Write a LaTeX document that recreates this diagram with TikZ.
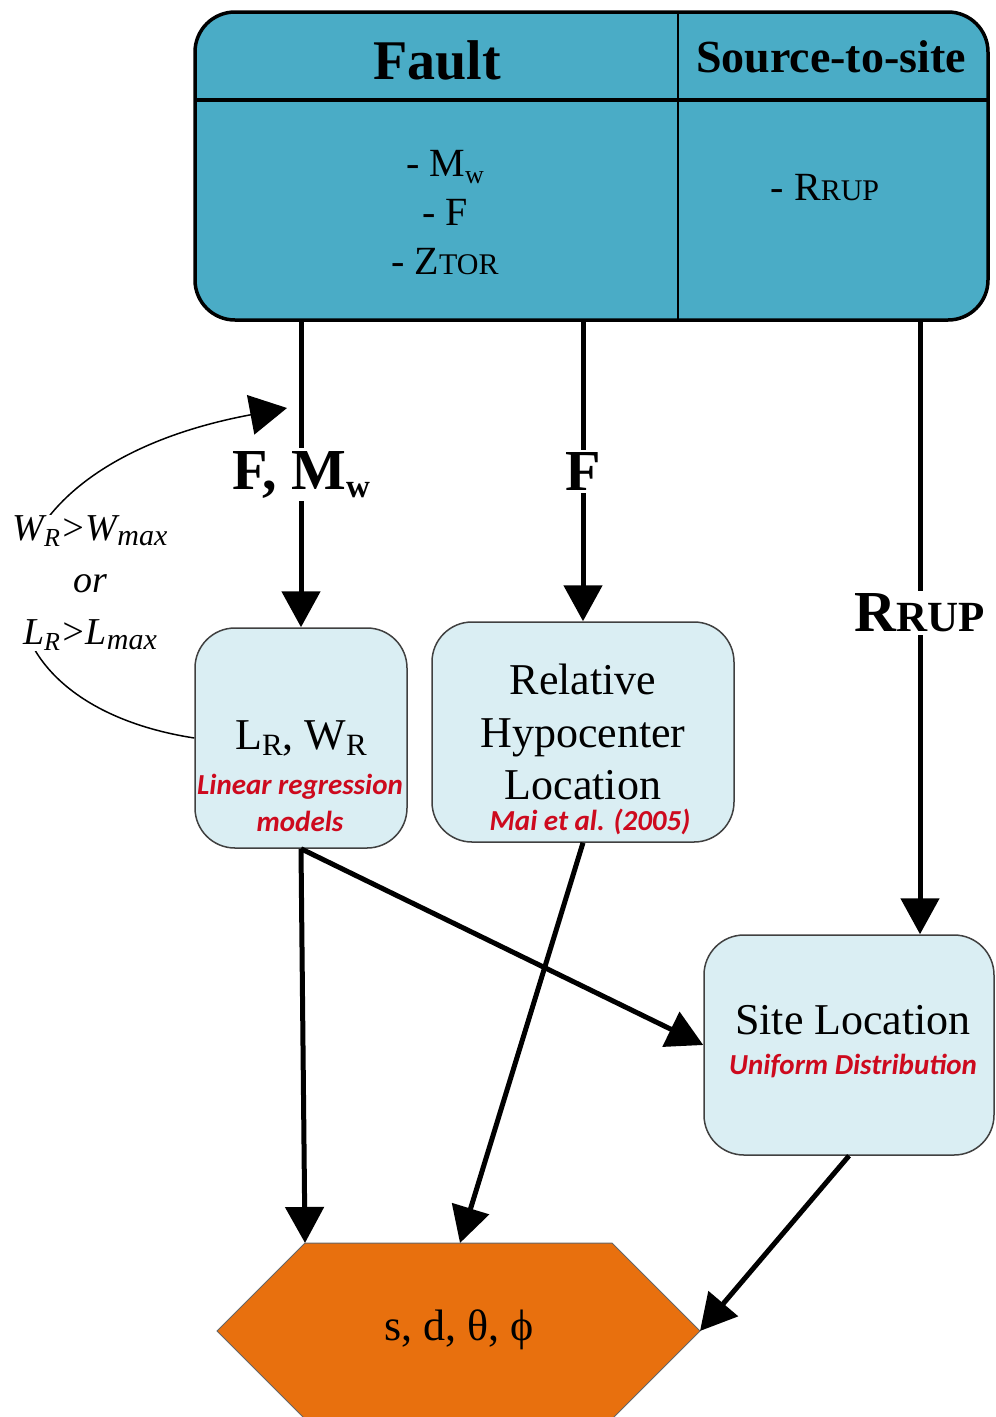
\documentclass[tikz,border=0pt]{standalone}
\usepackage{fontspec}
\setmainfont{Liberation Serif}
\newfontfamily\notefont{Carlito}
\usetikzlibrary{arrows.meta}

\definecolor{faultblue}{RGB}{74,172,198}
\definecolor{paleblue}{RGB}{218,238,243}
\definecolor{hexorange}{RGB}{232,112,14}
\definecolor{noteRed}{RGB}{205,10,30}

\newcommand{\fsz}[2]{\fontsize{#1}{#2}\selectfont}
\newcommand{\smallcap}[2]{{\fontsize{#1}{#1}\selectfont #2}}
\newcommand{\lowtxt}[3]{\raisebox{-#2}{\fontsize{#1}{#1}\selectfont #3}}

\begin{document}
\begin{tikzpicture}[x=1pt,y=-1pt,
  topbox/.style={draw,line width=3.5pt,fill=faultblue,rounded corners=40pt,
    minimum width=793pt,minimum height=308pt},
  stagebox/.style={draw=black!75,line width=1.5pt,fill=paleblue,rounded corners=40pt,
    minimum height=220pt},
  flow/.style={line width=5pt,-{Triangle[length=36pt,width=38pt]}},
  flowlabel/.style={fill=white,inner sep=3pt,font=\fsz{58}{62}\bfseries},
  note/.style={text=noteRed,font=\notefont\bfseries\itshape\fsz{29}{37}}]

  \useasboundingbox (0,0) rectangle (996,1417);

  % source table
  \node[topbox] (src) at (591.5,166) {};
  \draw[line width=3.5pt] (195,100) -- (988,100);
  \draw[line width=1.5pt] (678,12) -- (678,320);
  \node[font=\fsz{56}{60}\bfseries] (faulthead) at (437,60) {Fault};
  \node[font=\fsz{46}{50}\bfseries] (sitehead) at (831,57) {Source-to-site};
  \node[align=center,font=\fsz{40}{49}] (faultvars) at (445,213)
    {- M\lowtxt{26}{7pt}{w}\\- F\\- Z\smallcap{30}{TOR}};
  \node[font=\fsz{40}{49}] (sitevars) at (825,188) {- R\smallcap{30}{RUP}};

  % stages
  \node[stagebox,minimum width=212pt] (lr) at (301,738) {};
  \node[stagebox,minimum width=302pt] (hypo) at (583,732) {};
  \node[stagebox,minimum width=290pt] (site) at (849,1045) {};
  \node[font=\fsz{44}{50}] (lrtext) at (301,738) {L\lowtxt{31}{6pt}{R}, W\lowtxt{31}{6pt}{R}};
  \node[note,align=center] (lrnote) at (300,803) {Linear regression\\models};
  \node[align=center,font=\fsz{44}{52.5}] (hypotext) at (583,732) {Relative\\Hypocenter\\Location};
  \node[note] (hyponote) at (590,822) {Mai et al. (2005)};
  \node[font=\fsz{44}{50}] (sitetext) at (853,1020) {Site Location};
  \node[note] (sitenote) at (853,1066) {Uniform Distribution};

  % output
  \filldraw[fill=hexorange,draw=black!60,line width=1pt]
    (217,1331) -- (305,1243) -- (612,1243) -- (700,1331) -- (612,1419) -- (305,1419) -- cycle;
  \coordinate (hexnw) at (305,1243);
  \coordinate (hexn) at (460,1243);
  \coordinate (hexe) at (700,1331);
  \node[font=\fsz{44}{50}] (params) at (459,1330) {s, d, θ, ϕ};

  % connectors
  \coordinate (rrupcol) at (920,0);
  \draw[flow] (lr.north |- src.south) -- node[flowlabel] {F, M\lowtxt{33}{8pt}{w}} (lr.north);
  \draw[flow] (hypo.north |- src.south) -- node[flowlabel] {F} (hypo.north);
  \draw[flow] (rrupcol |- src.south) -- node[flowlabel,pos=0.475] {R\smallcap{43}{RUP}} (rrupcol |- site.north);
  \draw[flow] (lr.south) -- (hexnw);
  \draw[flow] (lr.south) -- (site.west);
  \draw[flow] (hypo.south) -- (hexn);
  \draw[flow] (site.south) -- (hexe);

  % resample loop
  \coordinate (loopend) at (287,408);
  \draw[line width=1.5pt,-{Triangle[length=37pt,width=40pt]}]
    (lr.west) .. controls (-50,700) and (-45,470) .. (loopend);
  \node[fill=white,align=center,inner sep=1pt,font=\fsz{38}{52}\itshape] (cond) at (90,583)
    {W\lowtxt{26}{6pt}{R}>W\lowtxt{30}{5pt}{max}\\or\\L\lowtxt{26}{6pt}{R}>L\lowtxt{30}{5pt}{max}};
\end{tikzpicture}
\end{document}
